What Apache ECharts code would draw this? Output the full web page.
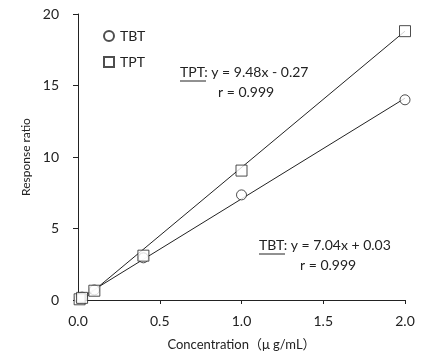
<!DOCTYPE html>
<html><head><meta charset="utf-8">
<script src="https://cdn.jsdelivr.net/npm/echarts@6/dist/echarts.min.js"></script>
<style>html,body{margin:0;padding:0;background:#fff}#c{width:429px;height:359px}</style>
</head><body><div id="c"></div>
<script>
const concX = [0.01, 0.025, 0.1, 0.4, 1.0, 2.0];
const tbtY = [0.1, 0.2, 0.7, 2.95, 7.35, 14.0];
const tptY = [0.05, 0.15, 0.65, 3.1, 9.05, 18.8];
const tbtFitX = [0.0, 2.0];
const tbtFitY = [0.03, 14.11];
const tptFitX = [0.03, 2.0];
const tptFitY = [0.02, 18.8];
const yTicks = [0, 5, 10, 15, 20];
const xTicks = [0.0, 0.5, 1.0, 1.5, 2.0];

const font = 'Lato, "Open Sans", sans-serif';
const pair = (xs, ys) => xs.map((x, i) => [x, ys[i]]);
const chart = echarts.init(document.getElementById('c'), null, {renderer: 'canvas'});
chart.setOption({
  animation: false,
  backgroundColor: '#fff',
  grid: {left: 78, right: 24, top: 14, bottom: 59},
  xAxis: {
    type: 'value', min: xTicks[0], max: xTicks[xTicks.length - 1], interval: 0.5,
    name: 'Concentration（μ g/mL）', nameLocation: 'middle', nameGap: 38,
    nameTextStyle: {fontFamily: 'Lato, "Noto Sans CJK JP", sans-serif', fontSize: 13, color: '#222'},
    axisLine: {lineStyle: {color: '#222', width: 1}},
    axisTick: {show: true, inside: false, length: 4, lineStyle: {color: '#222'}},
    axisLabel: {fontFamily: font, fontSize: 14, color: '#222', margin: 14, formatter: v => v.toFixed(1)},
    splitLine: {show: false}
  },
  yAxis: {
    type: 'value', min: yTicks[0], max: yTicks[yTicks.length - 1], interval: 5,
    name: 'Response ratio', nameLocation: 'middle', nameGap: 43,
    nameTextStyle: {fontFamily: font, fontSize: 12, color: '#222'},
    axisLine: {show: true, lineStyle: {color: '#222', width: 1}},
    axisTick: {show: true, inside: false, length: 5, lineStyle: {color: '#222'}},
    axisLabel: {fontFamily: font, fontSize: 14, color: '#222', margin: 19},
    splitLine: {show: false}
  },
  legend: {
    data: [{name: 'TBT', icon: 'circle'}, {name: 'TPT', icon: 'rect'}],
    orient: 'vertical', left: 98, top: 24, itemWidth: 10, itemHeight: 10, itemGap: 12,
    textStyle: {fontFamily: font, fontSize: 14, color: '#222', padding: [0, 0, 0, 1]}
  },
  series: [
    {name: 'TBT fit', type: 'line', data: pair(tbtFitX, tbtFitY), symbol: 'none',
     lineStyle: {color: '#222', width: 1}, z: 1, silent: true},
    {name: 'TPT fit', type: 'line', data: pair(tptFitX, tptFitY), symbol: 'none',
     lineStyle: {color: '#222', width: 1}, z: 1, silent: true},
    {name: 'TBT', type: 'scatter', data: pair(concX, tbtY), symbol: 'circle', symbolSize: 10,
     itemStyle: {color: '#fff', borderColor: '#222', borderWidth: 1}, z: 3},
    {name: 'TPT', type: 'scatter', data: pair(concX, tptY), symbol: 'rect', symbolSize: 11,
     itemStyle: {color: '#fff', borderColor: '#222', borderWidth: 1}, z: 3}
  ],
  graphic: [
    {type: 'text', left: 180, top: 65, style: {text: 'TPT: y = 9.48x - 0.27', font: '14px ' + font, fill: '#222'}},
    {type: 'line', shape: {x1: 180, y1: 81, x2: 206, y2: 81}, style: {stroke: '#222', lineWidth: 1}},
    {type: 'text', left: 218, top: 85, style: {text: 'r = 0.999', font: '14px ' + font, fill: '#222'}},
    {type: 'text', left: 259, top: 238, style: {text: 'TBT: y = 7.04x + 0.03', font: '14px ' + font, fill: '#222'}},
    {type: 'line', shape: {x1: 259, y1: 254, x2: 285, y2: 254}, style: {stroke: '#222', lineWidth: 1}},
    {type: 'text', left: 300, top: 258, style: {text: 'r = 0.999', font: '14px ' + font, fill: '#222'}}
  ]
});
</script></body></html>
